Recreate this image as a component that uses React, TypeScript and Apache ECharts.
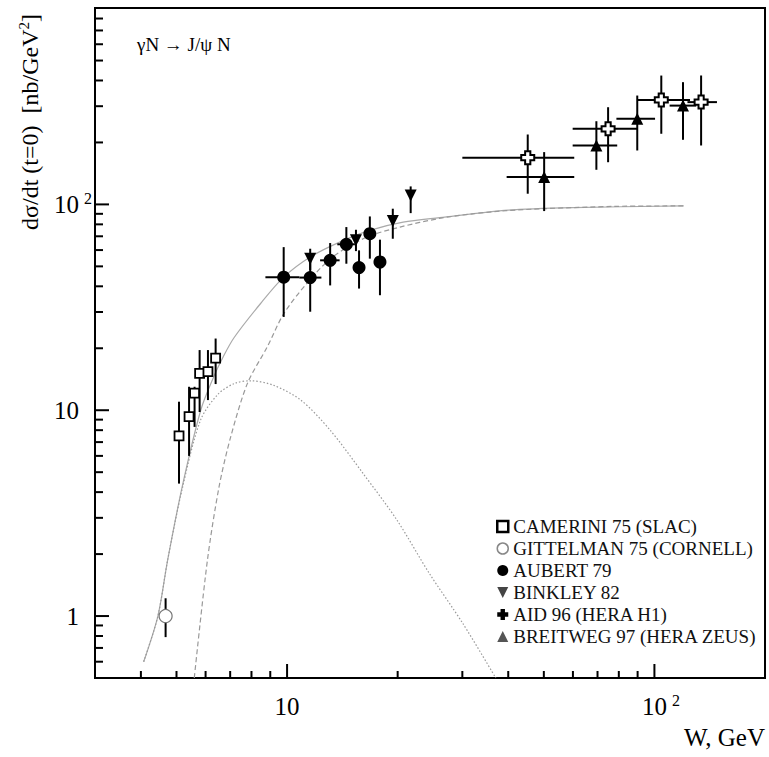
import React, { useEffect, useRef } from "react";
import * as echarts from "echarts";

// ---- axis ticks ----
const xMajorTicks = [10, 100];
const xMinorTicks = [4, 5, 6, 7, 8, 9, 20, 30, 40, 50, 60, 70, 80, 90];
const yMajorTicks = [1, 10, 100];
const yMinorTicks = [0.6, 0.7, 0.8, 0.9, 2, 3, 4, 5, 6, 7, 8, 9, 20, 30, 40, 50, 60, 70, 80, 90, 200, 300, 400, 500, 600, 700, 800];

// ---- CAMERINI 75 (SLAC) ----
const camW = [5.08, 5.41, 5.6, 5.78, 6.09, 6.39];
const camY = [7.5, 9.3, 12.1, 15.1, 15.4, 17.9];
const camLo = [4.4, 6.0, 8.3, 9.8, 11.2, 13.4];
const camHi = [11.0, 13.0, 13.0, 19.6, 19.6, 22.3];

// ---- GITTELMAN 75 (CORNELL) ----
const gitW = [4.67];
const gitY = [1.0];
const gitLo = [0.79];
const gitHi = [1.22];

// ---- AUBERT 79 ----
const aubW = [9.79, 11.56, 13.1, 14.5, 15.7, 16.8, 17.9];
const aubY = [44.3, 44.1, 53.5, 64.0, 49.3, 72.1, 52.5];
const aubLo = [28.4, 30.1, 40.4, 51.5, 39.0, 54.5, 36.2];
const aubHi = [62.0, 56.0, 64.9, 77.6, 59.8, 87.4, 67.4];
const aubWLo = [8.73, 10.8, 12.3, 13.7, 15.7, 16.8, 17.9];
const aubWHi = [10.8, 12.4, 13.9, 15.3, 15.7, 16.8, 17.9];

// ---- BINKLEY 82 ----
const binW = [11.56, 15.4, 19.4, 21.7];
const binY = [54.5, 66.9, 83.0, 110.6];
const binLo = [48.0, 59.3, 68.1, 90.7];
const binHi = [60.9, 75.3, 95.3, 122.3];

// ---- AID 96 (HERA H1) ----
const aidW = [45.2, 74.8, 104.4, 134];
const aidY = [168.7, 232.8, 322, 314];
const aidLo = [112.7, 160.3, 220.4, 193.3];
const aidHi = [218.6, 296.6, 422.7, 423];
const aidWLo = [30.0, 59.9, 89.7, 123];
const aidWHi = [60.5, 89.7, 125, 148];

// ---- BREITWEG 97 (HERA ZEUS) ----
const brW = [50.1, 69.5, 89.8, 119.6];
const brY = [135.8, 193.3, 260.7, 302];
const brLo = [92.8, 147.3, 182.8, 206];
const brHi = [179.5, 253.6, 338, 392.6];
const brWLo = [39.6, 59.9, 78.8, 110];
const brWHi = [60.5, 79.2, 100.4, 130];

// ---- model curves ----
const totalW = [4.07, 4.45, 4.73, 5.19, 5.82, 6.32, 6.67, 7.17, 8.47, 9.79, 11.56, 13.9, 16.8, 20.7, 26, 40, 60, 120];
const totalY = [0.6, 1.0, 1.87, 4.3, 10, 14.6, 17.9, 22.5, 33, 44.3, 55.5, 65.6, 74.8, 82, 86.2, 93.8, 96.5, 98.3];
const dashW = [5.59, 6.07, 6.53, 7.02, 7.8, 8.83, 9.79, 11.3, 13.3, 16.5, 20.3, 26, 32, 39.5, 50, 78, 120];
const dashY = [0.5, 1.87, 4.25, 7.4, 13.5, 20.3, 29.4, 41.2, 55.5, 69.4, 77.6, 85.5, 90, 93.2, 95.3, 97.8, 98.3];
const dotW = [4.07, 4.45, 4.73, 5.19, 5.82, 6.5, 7.2, 7.95, 9.2, 10.9, 13.1, 16.1, 19.9, 24.4, 30.1, 37];
const dotY = [0.6, 1.0, 1.87, 4.2, 9.0, 12.0, 13.5, 13.9, 13.2, 11.2, 8.0, 4.93, 2.93, 1.61, 0.92, 0.5];

const X_MIN = 3;
const X_MAX = 200;
const Y_MIN = 0.5;
const Y_MAX = 900;

const SERIF = "'Liberation Serif', 'Times New Roman', serif";
const CROSS = "path://M3,0 H7 V3 H10 V7 H7 V10 H3 V7 H0 V3 H3 Z";
const TRI_DOWN = "path://M0,0 L10,0 L5,10 Z";

const zip = (a: number[], b: number[]) => a.map((v, i) => [v, b[i]]);
const ebData = (w: number[], y: number[], lo: number[], hi: number[], wlo?: number[], whi?: number[]) =>
  w.map((v, i) => [v, y[i], wlo ? wlo[i] : v, whi ? whi[i] : v, lo[i], hi[i]]);

const ebSeries = (name: string, data: number[][]) => ({
  type: "custom",
  name,
  silent: true,
  z: 3,
  encode: { x: 0, y: 1 },
  data,
  renderItem: (params: any, api: any) => {
    const x = api.value(0);
    const y = api.value(1);
    const children: any[] = [];
    const a = api.coord([x, api.value(4)]);
    const b = api.coord([x, api.value(5)]);
    children.push({
      type: "line",
      shape: { x1: a[0], y1: a[1], x2: b[0], y2: b[1] },
      style: { stroke: "#000", lineWidth: 2 },
    });
    if (api.value(2) !== api.value(3)) {
      const c = api.coord([api.value(2), y]);
      const d = api.coord([api.value(3), y]);
      children.push({
        type: "line",
        shape: { x1: c[0], y1: c[1], x2: d[0], y2: d[1] },
        style: { stroke: "#000", lineWidth: 2 },
      });
    }
    return { type: "group", children };
  },
});

// tick marks drawn through the axes' own scales
const tickSeries = (isX: boolean) => {
  const major = isX ? xMajorTicks : yMajorTicks;
  const minor = isX ? xMinorTicks : yMinorTicks;
  const data = [
    ...major.map((v) => (isX ? [v, Y_MIN, 14] : [X_MIN, v, 14])),
    ...minor.map((v) => (isX ? [v, Y_MIN, 7] : [X_MIN, v, 8])),
  ];
  return {
    type: "custom",
    name: isX ? "xticks" : "yticks",
    silent: true,
    clip: false,
    z: 6,
    encode: { x: 0, y: 1 },
    data,
    renderItem: (params: any, api: any) => {
      const p = api.coord([api.value(0), api.value(1)]);
      const len = api.value(2);
      const shape = isX
        ? { x1: p[0], y1: p[1], x2: p[0], y2: p[1] - len }
        : { x1: p[0], y1: p[1], x2: p[0] + len, y2: p[1] };
      return { type: "line", shape, style: { stroke: "#000", lineWidth: 2 } };
    },
  };
};

const curve = (name: string, w: number[], y: number[], color: string, type: any) => ({
  type: "line",
  name,
  data: zip(w, y),
  showSymbol: false,
  symbol: "none",
  smooth: 0.3,
  silent: true,
  z: 1,
  lineStyle: { color, width: 1.2, type },
});

const logExp = (v: number) => Math.round(Math.log10(v));

export default function App() {
  const ref = useRef<HTMLDivElement>(null);
  useEffect(() => {
    if (!ref.current) return;
    const chart = echarts.init(ref.current, undefined, { renderer: "svg" });
    const base = { fontFamily: SERIF, fontSize: 25, color: "#000", lineHeight: 28 };
    const labelRich = {
      b: base,
      br: { ...base, padding: [0, 13, 0, 0] },
      bl: { ...base, padding: [0, 0, 0, 13] },
      s: { fontFamily: SERIF, fontSize: 16, color: "#000", lineHeight: 16, verticalAlign: "top", padding: [0, 0, 0, 5] },
    };
    const option: any = {
      animation: false,
      backgroundColor: "#fff",
      grid: {
        left: 95,
        right: 4,
        top: 8,
        bottom: 79,
        show: true,
        borderColor: "#000",
        borderWidth: 2,
        backgroundColor: "transparent",
      },
      xAxis: {
        type: "log",
        logBase: 10,
        min: X_MIN,
        max: X_MAX,
        position: "bottom",
        axisLine: { show: true, lineStyle: { color: "#000", width: 2 } },
        axisTick: { show: false },
        axisLabel: {
          show: true,
          customValues: xMajorTicks,
          margin: 14,
          formatter: (v: number) => (logExp(v) === 2 ? "{bl|10}{s|2}" : "{b|10}"),
          rich: labelRich,
        },
        splitLine: { show: false },
        name: "W, GeV",
        nameLocation: "end",
        nameGap: 0,
        nameTextStyle: {
          fontFamily: SERIF,
          fontSize: 25,
          color: "#000",
          align: "right",
          verticalAlign: "top",
          padding: [47, 0, 0, 0],
        },
      },
      yAxis: {
        type: "log",
        logBase: 10,
        min: Y_MIN,
        max: Y_MAX,
        position: "left",
        axisLine: { show: true, lineStyle: { color: "#000", width: 2 } },
        axisTick: { show: false },
        axisLabel: {
          show: true,
          customValues: yMajorTicks,
          margin: 3,
          align: "right",
          formatter: (v: number) => {
            const e = logExp(v);
            if (e === 0) return "{br|1}";
            if (e === 1) return "{br|10}";
            return "{b|10}{s|2}";
          },
          rich: labelRich,
        },
        splitLine: { show: false },
      },
      legend: {
        orient: "vertical",
        left: 491,
        top: 512,
        itemWidth: 11,
        itemHeight: 11,
        itemGap: 3,
        selectedMode: false,
        textStyle: { fontFamily: SERIF, fontSize: 19, color: "#111", lineHeight: 18 },
        data: [
          { name: "CAMERINI 75 (SLAC)", icon: "rect", itemStyle: { color: "#fff", borderColor: "#000", borderWidth: 2.5 } },
          { name: "GITTELMAN 75 (CORNELL)", icon: "circle", itemStyle: { color: "#fff", borderColor: "#888", borderWidth: 1.5 } },
          { name: "AUBERT 79", icon: "circle", itemStyle: { color: "#000", borderWidth: 0 } },
          { name: "BINKLEY 82", icon: TRI_DOWN, itemStyle: { color: "#444", borderWidth: 0 } },
          { name: "AID 96 (HERA H1)", icon: CROSS, itemStyle: { color: "#000", borderWidth: 0 } },
          { name: "BREITWEG 97 (HERA ZEUS)", icon: "triangle", itemStyle: { color: "#555", borderWidth: 0 } },
        ],
      },
      graphic: [
        {
          type: "text",
          x: 137,
          y: 44,
          style: {
            text: "γN → J/ψ N",
            fontFamily: SERIF,
            fontSize: 19,
            fill: "#000",
            align: "left",
            verticalAlign: "middle",
          },
        },
        {
          type: "text",
          x: 30,
          y: 122,
          rotation: Math.PI / 2,
          style: {
            text: "{n|dσ/dt (t=0)  [nb/GeV}{s|2}{n|]}",
            align: "center",
            verticalAlign: "middle",
            rich: {
              n: { fontFamily: SERIF, fontSize: 24, fill: "#000", lineHeight: 28 },
              s: { fontFamily: SERIF, fontSize: 15, fill: "#000", lineHeight: 15, verticalAlign: "top" },
            },
          },
        },
      ],
      series: [
        curve("total", totalW, totalY, "#aaa", "solid"),
        curve("dash", dashW, dashY, "#999", [5, 3]),
        curve("dot", dotW, dotY, "#999", [1.5, 2]),
        tickSeries(true),
        tickSeries(false),
        ebSeries("eb-cam", ebData(camW, camY, camLo, camHi)),
        ebSeries("eb-git", ebData(gitW, gitY, gitLo, gitHi)),
        ebSeries("eb-aub", ebData(aubW, aubY, aubLo, aubHi, aubWLo, aubWHi)),
        ebSeries("eb-bin", ebData(binW, binY, binLo, binHi)),
        ebSeries("eb-aid", ebData(aidW, aidY, aidLo, aidHi, aidWLo, aidWHi)),
        ebSeries("eb-br", ebData(brW, brY, brLo, brHi, brWLo, brWHi)),
        {
          type: "scatter",
          name: "CAMERINI 75 (SLAC)",
          data: zip(camW, camY),
          symbol: "rect",
          symbolSize: 9,
          z: 5,
          itemStyle: { color: "#fff", borderColor: "#000", borderWidth: 1.8, opacity: 1 },
        },
        {
          type: "scatter",
          name: "GITTELMAN 75 (CORNELL)",
          data: zip(gitW, gitY),
          symbol: "circle",
          symbolSize: 13,
          z: 5,
          itemStyle: { color: "#fff", borderColor: "#777", borderWidth: 1.2, opacity: 1 },
        },
        {
          type: "scatter",
          name: "AUBERT 79",
          data: zip(aubW, aubY),
          symbol: "circle",
          symbolSize: 13,
          z: 5,
          itemStyle: { color: "#000", opacity: 1 },
        },
        {
          type: "scatter",
          name: "BINKLEY 82",
          data: zip(binW, binY),
          symbol: TRI_DOWN,
          symbolSize: 12,
          z: 5,
          itemStyle: { color: "#000", opacity: 1 },
        },
        {
          type: "scatter",
          name: "AID 96 (HERA H1)",
          data: zip(aidW, aidY),
          symbol: CROSS,
          symbolSize: 13,
          z: 5,
          itemStyle: { color: "#fff", borderColor: "#000", borderWidth: 2, opacity: 1 },
        },
        {
          type: "scatter",
          name: "BREITWEG 97 (HERA ZEUS)",
          data: zip(brW, brY),
          symbol: "triangle",
          symbolSize: 12,
          z: 5,
          itemStyle: { color: "#000", opacity: 1 },
        },
      ],
    };
    chart.setOption(option);
    return () => chart.dispose();
  }, []);
  return (
    <div
      ref={ref}
      style={{ position: "absolute", left: 0, top: 0, width: 769, height: 757, background: "#fff" }}
    />
  );
}
